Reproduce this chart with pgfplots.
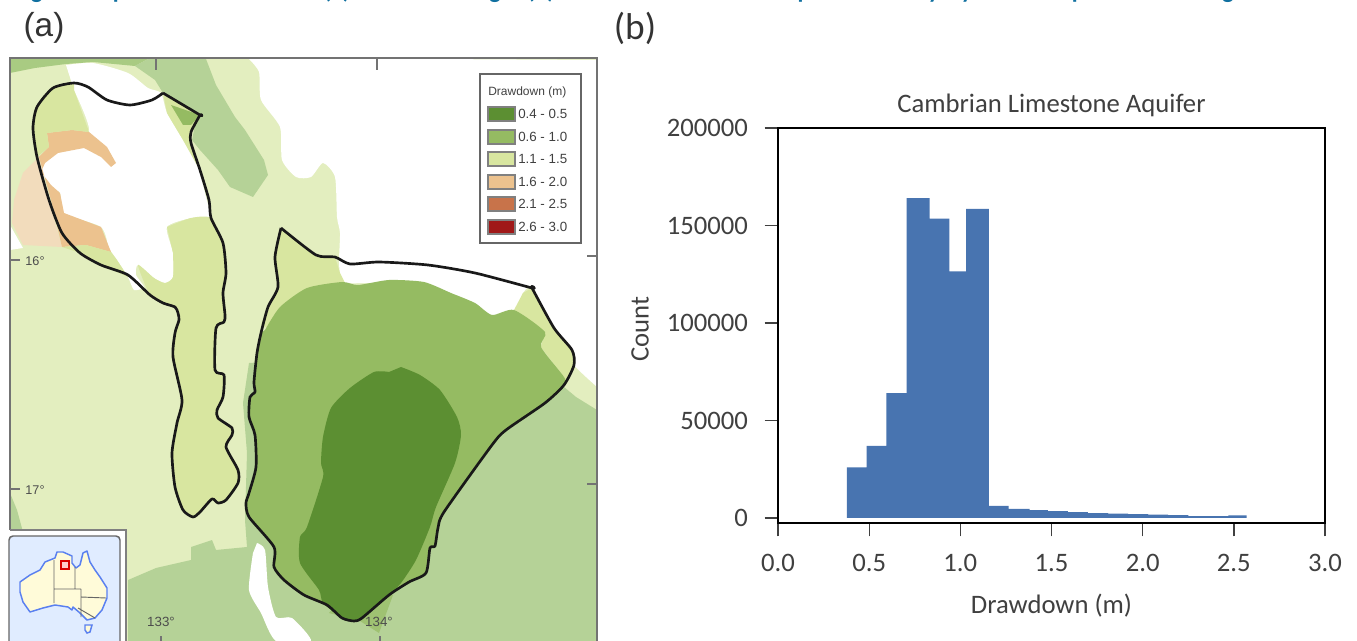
\documentclass[border=0pt]{standalone}
\usepackage{pgfplots}
\pgfplotsset{compat=1.18}
\usepackage{fontspec}
\setmainfont{Carlito}
\newfontfamily\arial{Liberation Sans}
\definecolor{deep}{HTML}{5C8F32}
\definecolor{midg}{HTML}{95BB62}
\definecolor{lite}{HTML}{D8E6A0}
\definecolor{pale}{HTML}{E3EEBF}
\definecolor{oliv}{HTML}{B5D297}
\definecolor{topg}{HTML}{A9CB82}
\definecolor{oran}{HTML}{ECC28E}
\definecolor{pora}{HTML}{F2DCBC}
\definecolor{rust}{HTML}{C8734A}
\definecolor{dred}{HTML}{A01818}
\definecolor{head}{HTML}{1070A0}
\definecolor{barb}{HTML}{4874B0}
\definecolor{txtg}{HTML}{404040}
\definecolor{ocean}{HTML}{E0ECFF}
\definecolor{land}{HTML}{FFFBD9}
\definecolor{coast}{HTML}{5A80F0}
\pgfplotsset{sm/.style={smooth,tension=0.4}}
\begin{document}
\begin{tikzpicture}
\clip[use as bounding box] (0,0) rectangle (1017.75pt,480.75pt);
\begin{axis}[at={(0,0)},anchor=south west,scale only axis,width=1017.75pt,height=480.75pt,
  xmin=0,xmax=1357,ymin=0,ymax=641,y dir=reverse,hide axis,clip=false,
  every axis plot/.append style={forget plot}]
% base
\addplot[fill=white,draw=none] coordinates {(0,0)(1357,0)(1357,641)(0,641)} --cycle;
\addplot[fill=pale,draw=none] coordinates {(10,58)(597,58)(597,641)(10,641)} --cycle;
% top band and north-east olive
\addplot[fill=topg,draw=none] coordinates {(10,59)(148,59)(135,66)(93,62)(66,64)(35,68)(10,73)} --cycle;
\addplot[fill=oliv,draw=none] coordinates {(148,59)(206,59)(216,85)(235,117)(245,130)(264,160)(268,175)(253,197)(230,187)(218,170)(200,150)(192,140)(195,125)(200,115)(163,93)(155,80)(135,66)} --cycle;
% white north-east
\addplot[fill=white,draw=none,sm] coordinates {(249,59)(259,72)(261,100)(280,127)(282,160)(296,177)(311,177)(323,163)(335,177)(337,217)(340,233)(339,260)(340,273)(345,283)(400,285)(490,320)(514,312)(523,293)(532,288)(554,328)(572,350)(574,365)(597,387)(597,387)(597,60)(597,60)(420,59)(249,59)} --cycle;
% white in the north-west lobe
\addplot[fill=white,draw=none,sm] coordinates {(66,65)(93,63)(128,73)(148,88)(161,93)(167,113)(183,140)(198,167)(206,197)(210,217)(191,218)(167,227)(173,253)(173,277)(165,283)(154,278)(138,265)(136,275)(144,287)(134,290)(128,277)(117,260)(109,248)(101,227)(64,213)(60,193)(51,187)(41,170)(51,155)(62,140)(89,130)(74,90)} --cycle;
\addplot[fill=white,draw=none] coordinates {(10,225)(23,248)(10,250)} --cycle;
% oranges
\addplot[fill=pora,draw=none] coordinates {(39,157)(23,173)(14,200)(12,223)(23,245)(62,247)(49,200)} --cycle;
\addplot[fill=oran,draw=none] coordinates {(47,133)(72,130)(89,132)(107,147)(116,163)(111,167)(101,157)(84,148)(58,153)(45,163)(41,172)(51,185)(60,193)(64,213)(101,227)(111,252)(86,245)(62,247)(51,200)(39,157)(49,147)} --cycle;
% lobe greens
\addplot[fill=lite,draw=none] coordinates {(74,83)(53,88)(37,107)(33,128)(37,157)(49,147)(47,133)(72,130)(89,132)(74,90)} --cycle;
\addplot[fill=lite,draw=none] coordinates {(62,247)(86,245)(111,252)(117,260)(128,277)(101,265)(80,253)} --cycle;
\addplot[fill=lite,draw=none] coordinates {(163,93)(167,113)(183,140)(198,167)(200,170)(191,143)(191,132)(200,115)} --cycle;
\addplot[fill=midg,draw=none] coordinates {(171,105)(200,115)(191,125)(183,125)} --cycle;
% west limb
\addplot[fill=lite,draw=none,sm] coordinates {(167,227)(191,218)(211,218)(223,243)(226,273)(223,293)(225,315)(224,322)(216,328)(215,370)(224,375)(223,397)(217,410)(218,418)(232,428)(232,435)(226,447)(238,470)(238,483)(226,500)(218,503)(212,499)(200,512)(193,517)(183,510)(175,487)(172,453)(177,423)(182,400)(173,357)(175,333)(179,320)(178,313)(175,307)(163,303)(150,295)(138,265)(154,278)(165,283)(173,277)(173,253)} --cycle;
% south olive
\addplot[fill=oliv,draw=none] coordinates {(128,580)(156,568)(191,560)(191,547)(212,540)(216,550)(247,547)(245,520)(247,453)(243,403)(249,363)(300,360)(564,387)(576,397)(597,410)(597,641)(128,641)} --cycle;
\addplot[fill=oliv,draw=none] coordinates {(10,493)(17,510)(23,532)(10,532)} --cycle;
\addplot[fill=white,draw=none,sm] coordinates {(257,543)(265,550)(268,587)(276,617)(292,618)(311,641)(276,641)(261,613)(249,590)(253,553)} --cycle;
\addplot[fill=midg!70!oliv,draw=none] coordinates {(393,595)(379,633)(360,621)(329,613)(340,600)} --cycle;
% east lobe greens
\addplot[fill=lite,draw=none] coordinates {(281,228)(316,255)(335,257)(340,273)(345,283)(307,288)(280,307)(268,328)(261,325)(268,307)(278,287)(275,257)} --cycle;
\addplot[fill=lite,draw=none] coordinates {(514,310)(523,293)(532,288)(554,328)(572,350)(574,365)(564,385)(564,377)(541,347)(545,332)} --cycle;
\addplot[fill=midg,draw=none,sm] coordinates {(265,330)(280,307)(307,288)(342,282)(358,285)(389,280)(424,282)(451,293)(475,303)(492,315)(514,310)(545,332)(541,347)(564,377)(564,385)(545,403)(506,430)(492,445)(444,512)(438,528)(435,546)(430,548)(426,573)(409,582)(389,595)(362,618)(354,621)(342,618)(327,605)(304,595)(284,580)(274,567)(274,547)(249,517)(246,503)(249,493)(256,467)(255,435)(249,417)(250,397)(255,392)(254,382)(257,353)(261,333)} --cycle;
\addplot[fill=deep,draw=none,sm] coordinates {(401,367)(420,375)(440,390)(457,417)(461,435)(455,463)(436,507)(430,527)(416,560)(401,583)(389,595)(362,618)(354,621)(342,618)(323,603)(319,590)(300,563)(300,537)(307,527)(323,477)(321,463)(323,437)(331,408)(350,388)(374,372)(389,372)} --cycle;
% aquifer outlines
\addplot[draw=black!90,line width=2pt,line join=round,sm] coordinates {(163,93)(200,115)(200,115)(191,132)(191,143)(200,170)(209,200)(211,218)(223,243)(226,273)(223,293)(225,315)(224,322)(216,328)(215,370)(224,375)(223,397)(217,410)(218,418)(232,428)(232,435)(226,447)(238,470)(238,483)(226,500)(218,503)(212,499)(200,512)(193,517)(183,510)(175,487)(172,453)(177,423)(182,400)(173,357)(175,333)(179,320)(178,313)(175,307)(163,303)(150,295)(128,275)(101,265)(80,253)(62,233)(49,200)(37,157)(33,128)(37,107)(53,88)(74,83)(88,87)(107,100)(130,105)(152,100)(163,93)};
\addplot[draw=black!90,line width=2pt,line join=round,sm] coordinates {(281,228)(316,255)(335,257)(350,264)(379,262)(428,265)(475,273)(532,288)(532,288)(554,328)(572,350)(574,365)(564,385)(545,403)(506,430)(492,445)(444,512)(438,528)(435,546)(430,548)(426,573)(409,582)(389,595)(362,618)(354,621)(342,618)(327,605)(304,595)(284,580)(274,567)(274,547)(249,517)(246,503)(249,493)(256,467)(255,435)(249,417)(250,397)(255,392)(254,382)(257,353)(261,333)(268,307)(278,287)(275,257)(281,228)};
% map frame and graticule
\draw[black!55,line width=0.8pt] (axis cs:10,532)--(axis cs:10,58)--(axis cs:597,58)--(axis cs:597,641);
\draw[black!55,line width=0.8pt] (axis cs:156,58)--(axis cs:156,70) (axis cs:377,58)--(axis cs:377,70)
 (axis cs:10,260)--(axis cs:20,260) (axis cs:10,489)--(axis cs:20,489)
 (axis cs:587,256)--(axis cs:597,256) (axis cs:587,484)--(axis cs:597,484)
 (axis cs:161,636)--(axis cs:161,641) (axis cs:380,636)--(axis cs:380,641);
\node[font=\arial\fontsize{9.5}{9.5}\selectfont,text=black!70] at (axis cs:35,261) {16°};
\node[font=\arial\fontsize{9.5}{9.5}\selectfont,text=black!70] at (axis cs:35,490) {17°};
\node[font=\arial\fontsize{10}{10}\selectfont,text=black!70] at (axis cs:161,622) {133°};
\node[font=\arial\fontsize{10}{10}\selectfont,text=black!70] at (axis cs:379,622) {134°};
% inset
\addplot[fill=white,draw=none] coordinates {(0,530)(126,530)(126,641)(0,641)} --cycle;
\draw[black!50,line width=0.8pt] (axis cs:10,530)--(axis cs:126,530)--(axis cs:126,641);
\draw[black!60,line width=1.1pt,fill=ocean,rounded corners=3pt] (axis cs:9,650)--(axis cs:9,536)--(axis cs:120,536)--(axis cs:120,650);
\addplot[fill=land,draw=coast,line width=1.1pt,line join=round] coordinates {(20,587)(20,582)(30,575)(40,570)(45,562)(55,558)(57,552)(63,552)(72,556)(72,563)(76,568)(80,565)(83,553)(87,551)(90,562)(95,570)(100,577)(107,588)(107,598)(102,610)(95,618)(87,620)(80,613)(73,607)(72,610)(68,607)(55,605)(43,608)(30,612)(23,602)(20,592)} --cycle;
\addplot[fill=land,draw=coast,line width=1.1pt] coordinates {(85,625)(92,625)(90,632)(87,633)(85,630)} --cycle;
\draw[black!60,line width=0.7pt] (axis cs:54,560)--(axis cs:54,603) (axis cs:54,589)--(axis cs:81,589) (axis cs:75,567)--(axis cs:75,589) (axis cs:81,589)--(axis cs:81,617) (axis cs:81,597)--(axis cs:106,598) (axis cs:78,608)--(axis cs:95,618);
\draw[red!85!black,line width=1.1pt,fill=red!20] (axis cs:61,561) rectangle (axis cs:69,569);
% legend
\draw[black!60,line width=1pt,fill=white] (axis cs:480,74) rectangle (axis cs:581,243);
\node[font=\arial\fontsize{9}{9}\selectfont,text=black!75,anchor=west,inner sep=0pt] at (axis cs:488,92) {Drawdown (m)};
\foreach \yy/\cc/\tt in {114/deep/0.4 - 0.5,137/midg/0.6 - 1.0,159/lite/1.1 - 1.5,182/oran/1.6 - 2.0,204/rust/2.1 - 2.5,227/dred/2.6 - 3.0}{
  \edef\temp{\noexpand\draw[black!50,line width=1.2pt,fill=\cc] (axis cs:488,\yy-7) rectangle (axis cs:515,\yy+7);
  \noexpand\node[font=\noexpand\arial\noexpand\fontsize{10}{10}\noexpand\selectfont,text=black!75,anchor=west,inner sep=0pt] at (axis cs:518,\yy) {\tt};}
  \temp
}
% panel letters
\node[font=\arial\fontsize{25}{25}\selectfont,text=black!80] at (axis cs:44,28) {(a)};
\node[font=\fontsize{28}{28}\selectfont,text=black!80] at (axis cs:635,28) {(b)};
% clipped heading
\begin{scope}[every node/.style={font=\bfseries\fontsize{18}{18}\selectfont,text=head,anchor=base,inner sep=0pt}]
\node at (axis cs:14,-1) [anchor=base west] {Figure};
\node at (axis cs:126,-1) [anchor=base east] {Map};
\node at (axis cs:337,-1) {(a)};
\node at (axis cs:440,-1) [anchor=base west] {histogram};
\node at (axis cs:541,-1) {(b)};
\node at (axis cs:786,-1) [anchor=base west] {Spatial};
\node at (axis cs:915,-1) [anchor=base west] {by};
\node at (axis cs:948,-1) [anchor=base west] {by};
\node at (axis cs:1085,-1) [anchor=base east] {Map};
\node at (axis cs:1222,-1) [anchor=base west] {g};
\end{scope}
\end{axis}
% histogram
\begin{axis}[at={(583.5pt,88.5pt)},anchor=south west,scale only axis,width=410.25pt,height=296.25pt,
  xmin=0,xmax=3,ymin=-2564,ymax=200000,
  axis line style={line width=2pt,black},
  xtick={0,0.5,1,1.5,2,2.5,3},ytick={0,50000,100000,150000,200000},
  xticklabel style={/pgf/number format/.cd,fixed,fixed zerofill,precision=1,assume math mode=true},
  yticklabel style={/pgf/number format/.cd,fixed,1000 sep={},assume math mode=true},
  scaled y ticks=false,
  tick pos=left,tick align=outside,major tick length=10pt,
  tick style={line width=1pt,txtg},
  ticklabel style={font=\fontsize{20}{20}\selectfont,text=txtg},
  xticklabel shift=10pt,yticklabel shift=9pt,
  title={Cambrian Limestone Aquifer},
  every axis title/.style={at={(axis description cs:0.5,1)},anchor=center,yshift=17.25pt,font=\fontsize{20}{20}\selectfont,text=txtg},
  xlabel={Drawdown (m)},
  every axis x label/.style={at={(axis description cs:0.5,0)},anchor=center,yshift=-62pt,font=\fontsize{20}{20}\selectfont,text=txtg},
  ylabel={Count},
  every axis y label/.style={at={(axis description cs:-0.252,0.49)},anchor=center,rotate=90,font=\fontsize{20}{20}\selectfont,text=txtg},
  clip=false]
\addplot[ybar interval,fill=barb,draw=none] coordinates {
(0.378,26000)(0.486,37000)(0.595,64000)(0.705,164000)(0.831,153500)(0.94,126500)(1.032,158500)(1.157,6200)(1.265,4700)(1.38,4000)(1.48,3500)(1.59,3000)(1.7,2500)(1.81,2200)(1.92,2000)(2.03,1700)(2.14,1500)(2.25,1000)(2.37,1000)(2.47,1400)(2.57,0)};
\end{axis}
\end{tikzpicture}
\end{document}
